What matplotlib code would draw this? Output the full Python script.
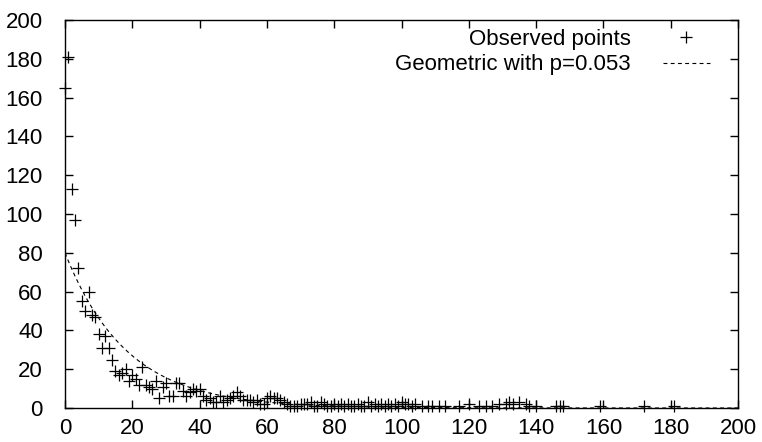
import numpy as np
import matplotlib
matplotlib.use("Agg")
import matplotlib.pyplot as plt

plt.rcParams['font.family'] = ['Liberation Sans', 'DejaVu Sans']

# observed counts per value
obs_x = [0, 1, 2, 3, 4, 5, 6, 7, 8, 9, 10, 11, 12, 13, 14, 15, 16, 17, 18, 19,
         20, 21, 22, 23, 24, 25, 26, 27, 28, 29, 30, 31, 32, 33, 34, 35, 36, 37, 38, 39,
         40, 41, 42, 43, 44, 45, 46, 47, 48, 49, 50, 51, 52, 53, 54, 55, 56, 57, 58, 59,
         60, 61, 62, 63, 64, 65, 66, 67, 68, 69, 70, 71, 72, 73, 74, 75, 76, 77, 78, 79,
         80, 81, 82, 83, 84, 85, 86, 87, 88, 89, 90, 91, 92, 93, 94, 95, 96, 97, 98, 99,
         100, 101, 102, 103, 104, 106, 108, 109, 111, 113, 117, 120, 123, 125, 127, 129,
         131, 132, 133, 135, 137, 138, 140, 146, 147, 148, 159, 172, 181]
obs_y = [165, 181, 113, 97, 72, 55, 50, 60, 48, 47, 38, 31, 37, 31, 25, 19, 17, 18, 20, 14,
         17, 15, 12, 21, 12, 11, 10, 14, 5, 11, 13, 6, 6, 13, 13, 9, 6, 8, 10, 9,
         10, 6, 4, 5, 3, 3, 6, 3, 4, 5, 6, 8, 6, 4, 4, 4, 3, 4, 2, 2,
         5, 6, 5, 5, 4, 3, 2, 1, 1, 1, 2, 2, 2, 3, 1, 1, 3, 2, 1, 1,
         2, 1, 2, 1, 2, 1, 1, 2, 1, 1, 3, 1, 2, 1, 2, 1, 2, 1, 2, 1,
         3, 2, 2, 1, 2, 1, 1, 1, 1, 1, 1, 2, 1, 1, 1, 2,
         2, 3, 2, 3, 2, 1, 1, 1, 1, 1, 1, 1, 1]

# geometric fit
p = 0.053
n_total = 1509
fit_x = np.linspace(0, 200, 401)
fit_y = n_total * p * (1 - p) ** fit_x

ticks = np.arange(0, 201, 20)

fig = plt.figure(figsize=(7.62, 4.42), dpi=100)
ax = fig.add_axes([65 / 762, 1 - 408 / 442, 673 / 762, 388 / 442])

ax.plot(obs_x, obs_y, linestyle='none', marker='+', markersize=9,
        markeredgewidth=0.9, color='black', label='Observed points',
        clip_on=False, zorder=3)
ax.plot(fit_x, fit_y, color='black', linewidth=0.8, dashes=(3.5, 3),
        label='Geometric with p=0.053')

ax.set_xlim(0, 200)
ax.set_ylim(0, 200)
ax.set_xticks(ticks)
ax.set_yticks(ticks)
ax.tick_params(direction='in', top=True, right=True, length=6, width=1,
               labelsize=16)
ax.tick_params(axis='y', pad=16)
ax.tick_params(axis='x', pad=7)
for s in ax.spines.values():
    s.set_linewidth(1)

ax.legend(loc='upper right', frameon=False, markerfirst=False, fontsize=16,
          handlelength=2.1, handletextpad=1.45, labelspacing=0.2,
          borderaxespad=0, borderpad=0, bbox_to_anchor=(0.958, 0.977))

fig.savefig('out.png', dpi=100)
